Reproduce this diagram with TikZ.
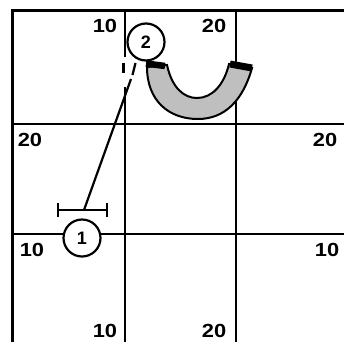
\documentclass[tikz,border=0pt]{standalone}
\usepackage{fontspec}
\setmainfont{Liberation Sans}
\begin{document}
\begin{tikzpicture}[
	% styles for the picture
	raster/.style={line width=2.8pt},
	strich/.style={line width=2.2pt},
	stelle/.style={circle, draw, line width=2.2pt, fill=white, inner sep=0pt, minimum size=37pt, font=\bfseries\fontsize{18}{18}\selectfont},
	zahl/.style={font=\bfseries\fontsize{19}{19}\selectfont, inner sep=0pt, xscale=1.15},
	x=1pt,y=-1pt,line join=miter,line cap=butt]
	\useasboundingbox (0,0) rectangle (344,343);
	% grid corners
	\coordinate (OL) at (12.5,10.5);
	\coordinate (OR) at (344,10.5);
	\coordinate (UL) at (12.5,342);
	\coordinate (BO) at (236,10.5);
	\coordinate (BU) at (236,342);
	\coordinate (CL) at (12.5,124);
	\coordinate (CR) at (344,124);
	\coordinate (DL) at (12.5,234);
	\coordinate (DR) at (344,234);
	% the second vertical is broken where the line meets it
	\coordinate (AO) at (125,10.5);
	\coordinate (A1) at (125,57);
	\coordinate (A2) at (123.5,63);
	\coordinate (A3) at (123.5,73);
	\coordinate (A4) at (125,87);
	\coordinate (AU) at (125,342);

	% grid
	\draw[raster] (UL) -- (OL) -- (OR);
	\draw[raster] (AO) -- (A1);
	\draw[raster] (A2) -- (A3);
	\draw[raster] (A4) -- (AU);
	\draw[raster] (BO) -- (BU);
	\draw[raster] (CL) -- (CR);
	\draw[raster] (DL) -- (DR);

	% grey arc with black ends
	\draw[line width=2pt,fill=lightgray] (147,67) .. controls (147,100) and (168,119) .. (198,119)
		.. controls (225,119) and (243,100) .. (252,68) -- (229,64)
		.. controls (224,85) and (212,98) .. (197,98)
		.. controls (184,98) and (172,88) .. (167,65) -- cycle;

	% the two circles
	\node[stelle] (S1) at (82,238) {1};
	\node[stelle] (S2) at (146,42) {2};

	\draw[line width=6.5pt] (146,63.5) -- (165,66);
	\draw[line width=7pt] (230,64) -- (252,68);

	% bar and line
	\coordinate (TL) at (58,210);
	\coordinate (TR) at (107,210);
	\coordinate (TM) at (84,210);
	\coordinate (L1) at (131,79);
	\coordinate (L2) at (132.5,75);
	\coordinate (TP) at (135.5,63);
	\draw[strich] (TM) -- (L1);
	\draw[strich] (L2) -- (TP);
	\draw[strich] (TL) -- (TR);
	\draw[strich] ([yshift=-7pt]TL) -- ([yshift=7pt]TL);
	\draw[strich] ([yshift=-7pt]TR) -- ([yshift=7pt]TR);

	% labels
	\node[zahl] (a1) at (105,25.5) {10};
	\node[zahl] (a2) at (214,25.5) {20};
	\node[zahl] (b1) at (30,140) {20};
	\node[zahl] (b2) at (325,140) {20};
	\node[zahl] (c1) at (32,250) {10};
	\node[zahl] (c2) at (327,250) {10};
	\node[zahl] (d1) at (105,331) {10};
	\node[zahl] (d2) at (214,331) {20};
\end{tikzpicture}
\end{document}
